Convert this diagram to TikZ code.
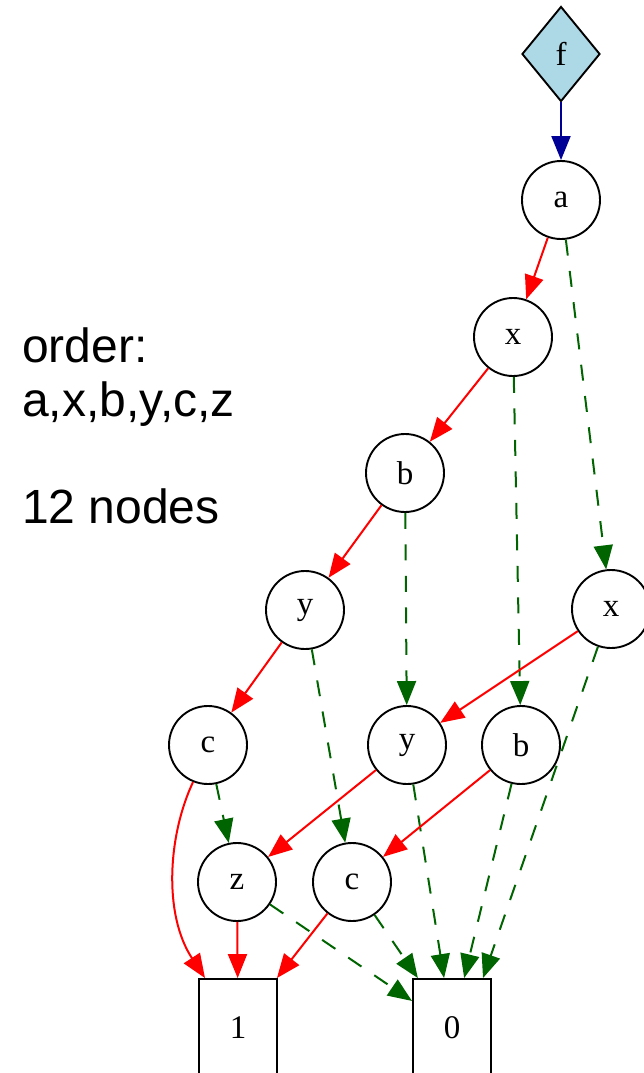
\documentclass[tikz,border=0pt]{standalone}
\usepackage{fontspec}
\setmainfont{Liberation Serif}
\newfontfamily\arialfont{Liberation Sans}
\usetikzlibrary{shapes.geometric,arrows.meta}
\definecolor{edgered}{RGB}{255,0,0}
\definecolor{edgegreen}{RGB}{0,100,0}
\definecolor{edgeblue}{RGB}{0,0,150}
\definecolor{fillblue}{RGB}{173,216,230}
\begin{document}
\begin{tikzpicture}[x=1pt,y=-1pt,
  vnode/.style={circle,draw=black,line width=1.9pt,minimum size=78pt,inner sep=0pt,font=\fontsize{33}{38}\selectfont},
  termbox/.style={rectangle,draw=black,line width=1.9pt,minimum width=78pt,minimum height=98pt,inner sep=0pt,font=\fontsize{33}{38}\selectfont},
  fnode/.style={diamond,draw=black,fill=fillblue,line width=1.9pt,minimum width=78pt,minimum height=95pt,inner sep=0pt,font=\fontsize{33}{38}\selectfont},
  edgebase/.style={line width=2pt,-{Triangle[length=24pt,width=19pt]}},
  hiedge/.style={edgebase,draw=edgered},
  loedge/.style={edgebase,draw=edgegreen,dash pattern=on 16pt off 15.5pt},
  rootedge/.style={edgebase,draw=edgeblue}]
\useasboundingbox (0,0) rectangle (643,1073);

% text block
\node[anchor=north west,align=left,inner sep=0pt,font=\arialfont\fontsize{48}{53.5}\selectfont] (info) at (22,328) {order:\\a,x,b,y,c,z\\[53.5pt]12 nodes};

% nodes
\node[fnode] (f) at (561,54) {f};
\node[vnode] (a) at (561,200) {a};
\node[vnode] (x1) at (513,337) {x};
\node[vnode] (b1) at (405,473) {b};
\node[vnode] (y1) at (305,610) {y};
\node[vnode] (x2) at (611,609) {x};
\node[vnode] (c1) at (208,745) {c};
\node[vnode] (y2) at (407,745) {y};
\node[vnode] (b2) at (521,745) {b};
\node[vnode] (z) at (237,882) {z};
\node[vnode] (c2) at (352,882) {c};
\node[termbox] (n1) at (238,1028) {1};
\node[termbox] (n0) at (452,1028) {0};

\coordinate (n1in) at ([xshift=-33pt]n1.north);
\coordinate (n0in) at ([xshift=31pt]n0.north);

% edges
\draw[rootedge] (f) -- (a);
\draw[hiedge] (a) -- (x1);
\draw[loedge] (a) -- (x2);
\draw[hiedge] (x1) -- (b1);
\draw[loedge] (x1) -- (b2);
\draw[hiedge] (b1) -- (y1);
\draw[loedge] (b1) -- (y2);
\draw[hiedge] (y1) -- (c1);
\draw[loedge] (y1) -- (c2);
\draw[hiedge] (x2) -- (y2);
\draw[loedge] (x2) -- (n0in);
\draw[hiedge] (c1.248) .. controls +(-25,53) and +(-42,-64) .. (n1in);
\draw[loedge] (c1) -- (z);
\draw[hiedge] (y2) -- (z);
\draw[loedge] (y2) -- (n0);
\draw[hiedge] (b2) -- (c2);
\draw[loedge] (b2) -- (n0);
\draw[hiedge] (z) -- (n1);
\draw[loedge] (z) -- (n0);
\draw[hiedge] (c2) -- (n1);
\draw[loedge] (c2) -- (n0);
\end{tikzpicture}
\end{document}
